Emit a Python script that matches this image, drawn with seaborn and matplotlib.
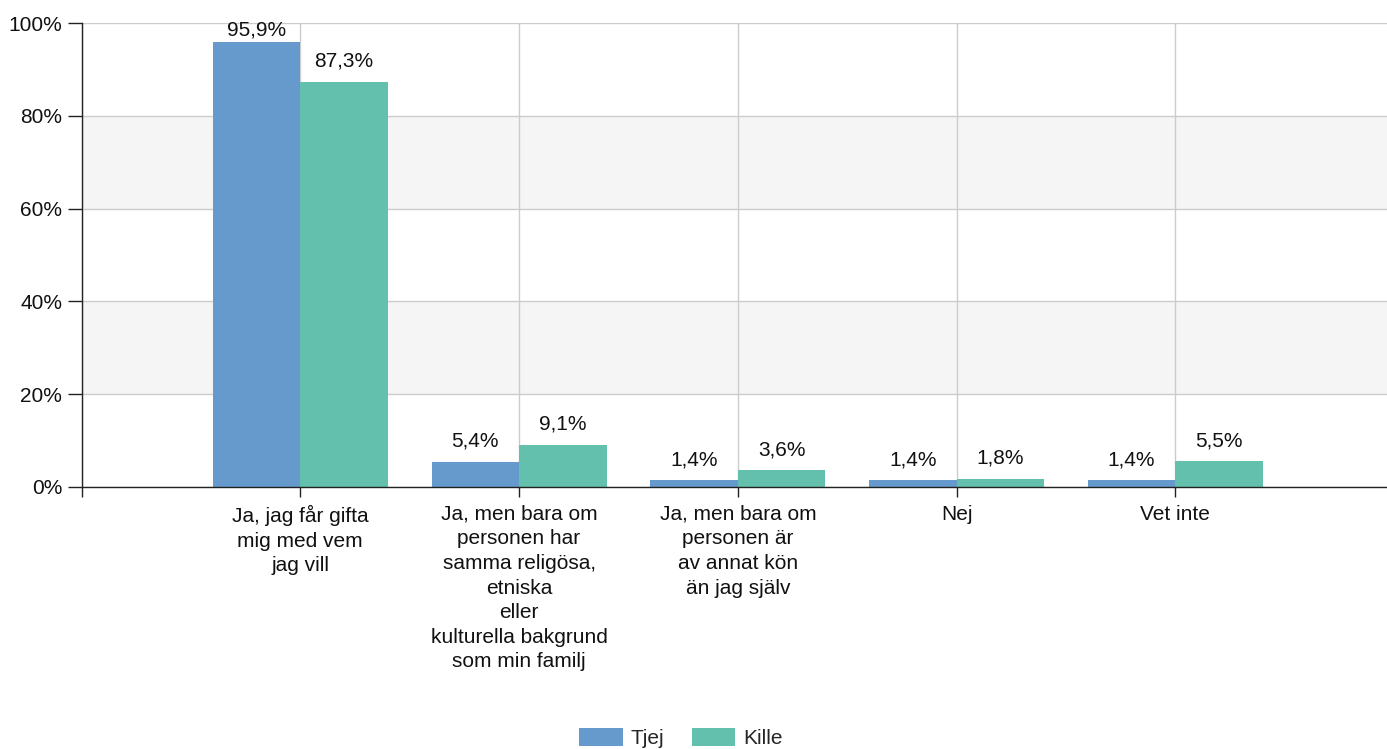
import pandas as pd
import matplotlib
matplotlib.use('Agg')
import matplotlib.pyplot as plt
import seaborn as sns
from matplotlib.patches import Patch

categories = [
    'Ja, jag får gifta\nmig med vem\njag vill',
    'Ja, men bara om\npersonen har\nsamma religösa,\netniska\neller\nkulturella bakgrund\nsom min familj',
    'Ja, men bara om\npersonen är\nav annat kön\nän jag själv',
    'Nej',
    'Vet inte',
]
tjej = [95.9, 5.4, 1.4, 1.4, 1.4]
kille = [87.3, 9.1, 3.6, 1.8, 5.5]
series = ['Tjej', 'Kille']
colors = ['#6699CC', '#63C0AD']

df = pd.DataFrame({
    'kategori': categories * 2,
    'grupp': ['Tjej'] * len(categories) + ['Kille'] * len(categories),
    'andel': tjej + kille,
})

sns.set_style('white')
plt.rcParams['font.family'] = ['Liberation Sans', 'DejaVu Sans']
fs = 15

fig = plt.figure(figsize=(13.87, 7.49), dpi=100)
# plot area runs a little past the right edge of the figure, as in the original
ax = fig.add_axes([0.0588, 0.350, 0.9463, 0.619])

# alternating bands
for lo, hi in [(20, 40), (60, 80)]:
    ax.axhspan(lo, hi, color='#F5F5F5', zorder=0, lw=0)

sns.barplot(data=df, x='kategori', y='andel', hue='grupp', hue_order=series,
            palette=colors, width=0.8, linewidth=0, saturation=1, ax=ax, zorder=3)

ax.set_xlim(-1, 5)
ax.set_ylim(0, 100)
ax.set_yticks([0, 20, 40, 60, 80, 100])
ax.set_yticklabels([f'{v}%' for v in range(0, 101, 20)], fontsize=fs, color='#111111')
ax.set_xticks(range(-1, 5))
ax.set_xticklabels([''] + categories, fontsize=fs, color='#111111', linespacing=1.37)
ax.tick_params(axis='y', length=10, width=1, color='#222222', pad=4, left=True)
ax.tick_params(axis='x', length=7, width=1, color='#222222', pad=6, bottom=True)
ax.set_xlabel('')
ax.set_ylabel('')

ax.grid(True, axis='both', color='#CCCCCC', linewidth=1, zorder=1)
ax.set_axisbelow(True)
for side in ['top', 'right']:
    ax.spines[side].set_visible(False)
for side in ['left', 'bottom']:
    ax.spines[side].set_color('#222222')
    ax.spines[side].set_linewidth(1)
    ax.spines[side].set_zorder(5)

for cont in ax.containers:
    for b in cont:
        h = b.get_height()
        # labels near the top are squeezed down to stay inside the plot
        pad = 2 if h > 90 else 8
        ax.annotate(f'{h:.1f}%'.replace('.', ','), (b.get_x() + b.get_width() / 2, h),
                    xytext=(0, pad), textcoords='offset points', ha='center', va='bottom',
                    fontsize=fs, color='#111111', zorder=6)

ax.get_legend().remove()
handles = [Patch(facecolor=c, edgecolor='none') for c in colors]
fig.legend(handles, series, loc='lower center', bbox_to_anchor=(0.491, -0.024), ncol=2,
           frameon=False, fontsize=fs, handlelength=2.1, handleheight=0.9,
           handletextpad=0.4, columnspacing=1.3)

fig.savefig('out.png', dpi=100)
